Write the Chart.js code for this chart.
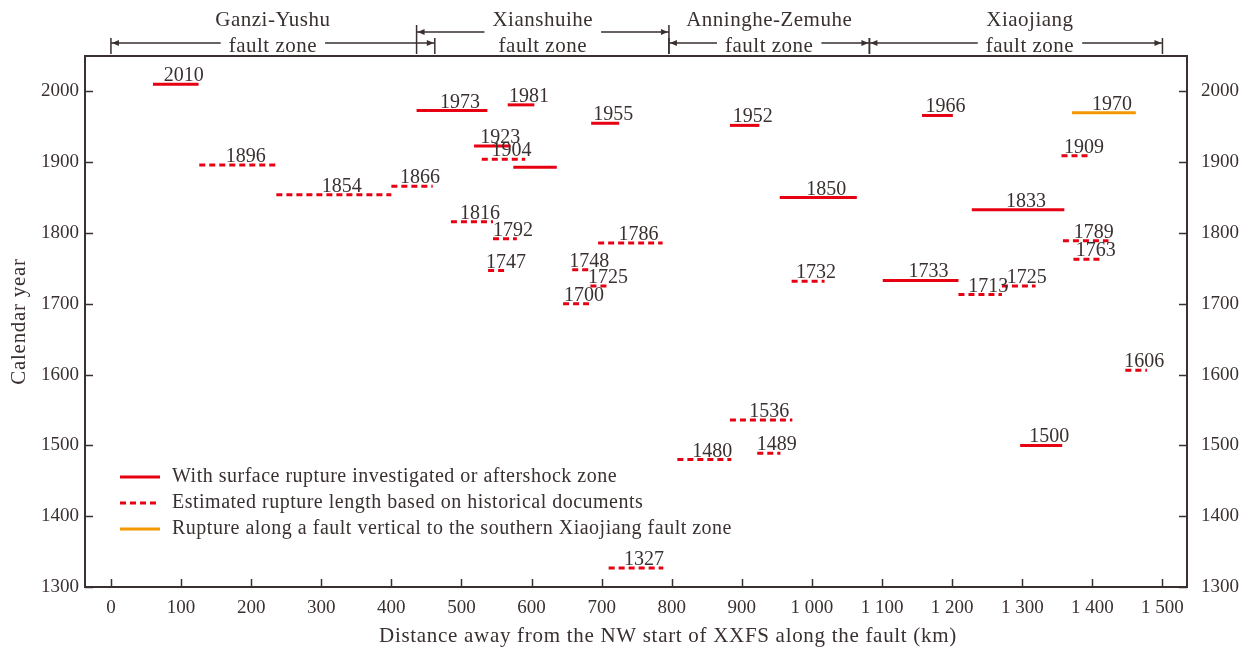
<!DOCTYPE html>
<html lang="en">
<head>
<meta charset="UTF-8">
<title>Rupture history along the XXFS</title>
<script src="https://cdn.jsdelivr.net/npm/chart.js"></script>
<style>
    body { margin: 0; background: #fff; }
    canvas { display: block; }
</style>
</head>
<body>
<canvas id="ruptureChart" width="1253" height="650"></canvas>
<script>
    // With surface rupture investigated or aftershock zone (red solid)
    const surfaceYears  = [2010, 1973, 1981, 1923, 1893, 1955, 1952, 1966, 1850, 1833, 1733, 1500];
    const surfaceLabels = ['2010', '1973', '1981', '1923', '', '1955', '1952', '1966', '1850', '1833', '1733', '1500'];
    const surfaceStart  = [60, 436, 566, 518, 574, 685, 883, 1157, 954, 1228, 1101, 1297];
    const surfaceEnd    = [125, 537, 604, 570, 636, 725, 925, 1201, 1064, 1360, 1209, 1357];

    // Estimated from historical documents (red dashed)
    const historyYears = [1896, 1854, 1866, 1904, 1816, 1792, 1786, 1747, 1748, 1725, 1700,
                          1732, 1713, 1725, 1909, 1789, 1763, 1606, 1536, 1480, 1489, 1327];
    const historyStart = [126, 236, 400, 529, 485, 545, 695, 538, 658, 684, 645,
                          971, 1209, 1271, 1356, 1358, 1373, 1447, 883, 808, 922, 710];
    const historyEnd   = [236, 400, 459, 591, 545, 579, 787, 566, 684, 711, 682,
                          1018, 1271, 1319, 1397, 1423, 1414, 1478, 972, 885, 955, 788];

    // Rupture on a fault vertical to the southern Xiaojiang fault zone (orange)
    const crossYears = [1970];
    const crossStart = [1371];
    const crossEnd   = [1462];

    const zoneNames = ['Ganzi-Yushu', 'Xianshuihe', 'Anninghe-Zemuhe', 'Xiaojiang'];
    const zoneStart = [0, 436, 796, 1082];
    const zoneEnd   = [462, 796, 1082, 1500];

    const xTickValues = [0, 100, 200, 300, 400, 500, 600, 700, 800, 900, 1000, 1100, 1200, 1300, 1400, 1500];
    const yTickValues = [1300, 1400, 1500, 1600, 1700, 1800, 1900, 2000];

    const legendLabels = [
        'With surface rupture investigated or aftershock zone',
        'Estimated rupture length based on historical documents',
        'Rupture along a fault vertical to the southern Xiaojiang fault zone'
    ];

    const RED = '#e60012';
    const ORANGE = '#f39800';
    const INK = '#3a3030';
    const DASH = [6, 4];
    const SERIF = '"Liberation Serif", "DejaVu Serif", serif';

    function segments(years, starts, ends, labels, color, dash) {
        return years.map((y, i) => ({
            label: labels ? labels[i] : String(y),
            data: [{ x: starts[i], y: y }, { x: ends[i], y: y }],
            borderColor: color,
            borderWidth: 3,
            borderDash: dash,
            borderCapStyle: 'butt',
            showLine: true,
            pointRadius: 0,
            pointHoverRadius: 0,
            fill: false
        }));
    }

    const datasets = [].concat(
        segments(surfaceYears, surfaceStart, surfaceEnd, surfaceLabels, RED, []),
        segments(historyYears, historyStart, historyEnd, null, RED, DASH),
        segments(crossYears, crossStart, crossEnd, null, ORANGE, [])
    );

    function fmtKm(v) {
        if (v >= 1000) {
            return Math.floor(v / 1000) + ' ' + String(v % 1000).padStart(3, '0');
        }
        return String(v);
    }

    // year labels above each segment
    const yearLabels = {
        id: 'yearLabels',
        afterDatasetsDraw(chart) {
            const ctx = chart.ctx;
            ctx.save();
            ctx.font = '20px ' + SERIF;
            ctx.fillStyle = INK;
            ctx.textAlign = 'center';
            ctx.textBaseline = 'alphabetic';
            chart.data.datasets.forEach((ds, i) => {
                if (!ds.label) return;
                const pts = chart.getDatasetMeta(i).data;
                const cx = (pts[0].x + pts[1].x) / 2 + 8;
                ctx.fillText(ds.label, cx, pts[0].y - 3);
            });
            ctx.restore();
        }
    };

    // frame, inward ticks, axis titles, legend, fault zone header
    const decorations = {
        id: 'decorations',
        afterDraw(chart) {
            const ctx = chart.ctx;
            const a = chart.chartArea;
            const xs = chart.scales.x;
            const yl = chart.scales.y;
            ctx.save();
            ctx.strokeStyle = INK;
            ctx.fillStyle = INK;

            // box
            ctx.lineWidth = 2;
            ctx.strokeRect(a.left, a.top, a.right - a.left, a.bottom - a.top);

            // inward ticks
            ctx.lineWidth = 1.5;
            ctx.beginPath();
            xs.ticks.forEach(t => {
                const px = Math.round(xs.getPixelForValue(t.value)) + 0.5;
                ctx.moveTo(px, a.bottom);
                ctx.lineTo(px, a.bottom - 8);
            });
            yl.ticks.forEach(t => {
                const py = Math.round(yl.getPixelForValue(t.value)) + 0.5;
                ctx.moveTo(a.left, py);
                ctx.lineTo(a.left + 8, py);
                ctx.moveTo(a.right, py);
                ctx.lineTo(a.right - 8, py);
            });
            ctx.stroke();

            // axis titles
            ctx.letterSpacing = '0.7px';
            ctx.font = '21px ' + SERIF;
            ctx.textAlign = 'center';
            ctx.textBaseline = 'middle';
            ctx.fillText('Distance away from the NW start of XXFS along the fault (km)',
                (a.left + a.right) / 2 + 32, 636);
            ctx.save();
            ctx.translate(19, (a.top + a.bottom) / 2);
            ctx.rotate(-Math.PI / 2);
            ctx.fillText('Calendar year', 0, 0);
            ctx.restore();

            // legend
            ctx.letterSpacing = '0.5px';
            ctx.font = '20px ' + SERIF;
            ctx.textAlign = 'left';
            const legendColors = [RED, RED, ORANGE];
            const legendDash = [[], DASH, []];
            legendLabels.forEach((txt, i) => {
                const ly = 477 + i * 26;
                ctx.save();
                ctx.strokeStyle = legendColors[i];
                ctx.lineWidth = 3;
                ctx.setLineDash(legendDash[i]);
                ctx.beginPath();
                ctx.moveTo(a.left + 35, ly);
                ctx.lineTo(a.left + 75, ly);
                ctx.stroke();
                ctx.restore();
                ctx.fillText(txt, a.left + 87, ly);
            });

            // fault zone header
            ctx.font = '21px ' + SERIF;
            ctx.textAlign = 'center';
            ctx.textBaseline = 'alphabetic';
            ctx.lineWidth = 1.5;
            zoneNames.forEach((name, i) => {
                const x0 = xs.getPixelForValue(zoneStart[i]);
                const x1 = xs.getPixelForValue(zoneEnd[i]);
                // the last zone's caption sits a little right of centre
                const cx = (x0 + x1) / 2 + (i === 3 ? 14 : 0);
                const high = (i === 1);
                const lineY = high ? 32 : 43;
                ctx.fillText(name, cx, 26);
                ctx.fillText('fault zone', cx, 52);
                const gapText = high ? name : 'fault zone';
                const half = ctx.measureText(gapText).width / 2 + 8;
                ctx.beginPath();
                ctx.moveTo(x0, lineY);
                ctx.lineTo(cx - half, lineY);
                ctx.moveTo(cx + half, lineY);
                ctx.lineTo(x1, lineY);
                // end ticks
                const tTop = high ? lineY - 7 : lineY - 5;
                ctx.moveTo(x0, tTop);
                ctx.lineTo(x0, 54);
                ctx.moveTo(x1, tTop);
                ctx.lineTo(x1, 54);
                ctx.stroke();
                // arrowheads
                ctx.beginPath();
                ctx.moveTo(x0 + 1, lineY);
                ctx.lineTo(x0 + 8, lineY - 3);
                ctx.lineTo(x0 + 8, lineY + 3);
                ctx.closePath();
                ctx.moveTo(x1 - 1, lineY);
                ctx.lineTo(x1 - 8, lineY - 3);
                ctx.lineTo(x1 - 8, lineY + 3);
                ctx.closePath();
                ctx.fill();
            });
            ctx.restore();
        }
    };

    const tickFont = { family: SERIF, size: 19 };

    const ctx = document.getElementById('ruptureChart').getContext('2d');
    new Chart(ctx, {
        type: 'scatter',
        data: { datasets: datasets },
        options: {
            responsive: false,
            animation: false,
            layout: { padding: { top: 56, left: 8, right: 10, bottom: 0 } },
            plugins: {
                legend: { display: false },
                tooltip: { enabled: false }
            },
            scales: {
                x: {
                    type: 'linear',
                    min: -37,
                    max: 1535,
                    grid: { display: false, drawTicks: false },
                    border: { display: false },
                    afterBuildTicks: s => { s.ticks = xTickValues.map(v => ({ value: v })); },
                    afterFit: s => { s.height = 63; },
                    ticks: {
                        padding: 10,
                        color: INK,
                        font: tickFont,
                        maxRotation: 0,
                        autoSkip: false,
                        callback: v => fmtKm(v)
                    }
                },
                y: {
                    type: 'linear',
                    position: 'left',
                    min: 1300,
                    max: 2050,
                    grid: { display: false, drawTicks: false },
                    border: { display: false },
                    afterBuildTicks: s => { s.ticks = yTickValues.map(v => ({ value: v })); },
                    afterFit: s => { s.width = 77; },
                    ticks: {
                        padding: 6,
                        color: INK,
                        font: tickFont,
                        callback: v => String(v)
                    }
                },
                yRight: {
                    type: 'linear',
                    position: 'right',
                    min: 1300,
                    max: 2050,
                    grid: { display: false, drawTicks: false },
                    border: { display: false },
                    afterBuildTicks: s => { s.ticks = yTickValues.map(v => ({ value: v })); },
                    afterFit: s => { s.width = 56; },
                    ticks: {
                        padding: 14,
                        color: INK,
                        font: tickFont,
                        callback: v => String(v)
                    }
                }
            }
        },
        plugins: [yearLabels, decorations]
    });
</script>
</body>
</html>
